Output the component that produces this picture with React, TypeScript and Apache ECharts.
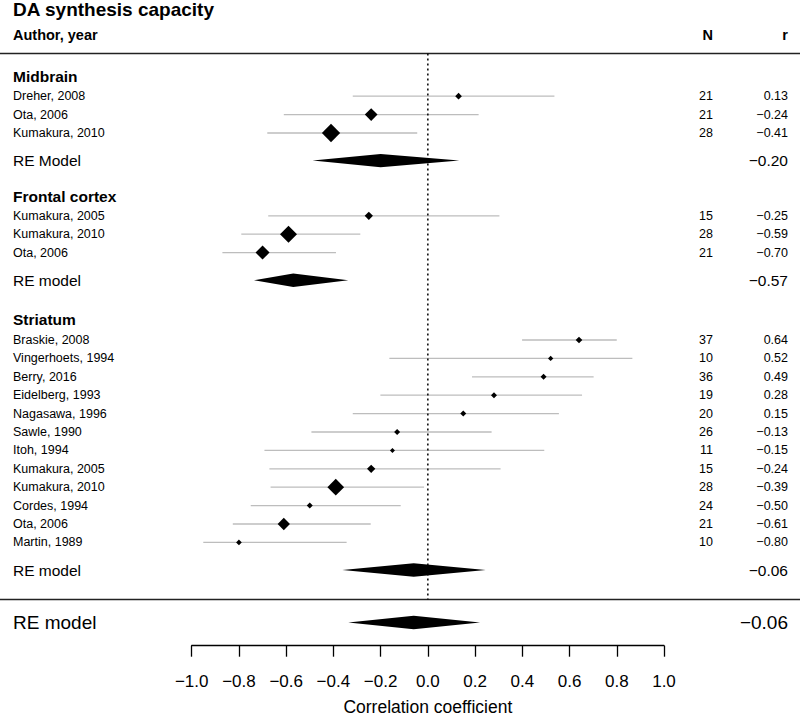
import React, { useEffect, useRef } from "react";
import * as echarts from "echarts";

// ---------- data ----------
const groupNames = ["Midbrain", "Frontal cortex", "Striatum"];
const groupRows = [-1.05, 5.45, 12.15];

const studyLabels = [
  "Dreher, 2008", "Ota, 2006", "Kumakura, 2010",
  "Kumakura, 2005", "Kumakura, 2010", "Ota, 2006",
  "Braskie, 2008", "Vingerhoets, 1994", "Berry, 2016", "Eidelberg, 1993",
  "Nagasawa, 1996", "Sawle, 1990", "Itoh, 1994", "Kumakura, 2005",
  "Kumakura, 2010", "Cordes, 1994", "Ota, 2006", "Martin, 1989",
];
const studyRows = [
  0, 1, 2,
  6.5, 7.5, 8.5,
  13.25, 14.25, 15.25, 16.25, 17.25, 18.25, 19.25, 20.25, 21.25, 22.25, 23.25, 24.25,
];
const studyN = [21, 21, 28, 15, 28, 21, 37, 10, 36, 19, 20, 26, 11, 15, 28, 24, 21, 10];
const studyR = [
  0.13, -0.24, -0.41,
  -0.25, -0.59, -0.70,
  0.64, 0.52, 0.49, 0.28, 0.15, -0.13, -0.15, -0.24, -0.39, -0.50, -0.61, -0.80,
];
const studyLower = [
  -0.318, -0.61, -0.68,
  -0.676, -0.79, -0.87,
  0.399, -0.163, 0.187, -0.201, -0.318, -0.493, -0.692, -0.671, -0.666, -0.75, -0.826, -0.951,
];
const studyUpper = [
  0.536, 0.215, -0.045,
  0.303, -0.286, -0.389,
  0.80, 0.866, 0.702, 0.653, 0.555, 0.27, 0.493, 0.308, -0.016, -0.115, -0.242, -0.344,
];
// relative study weights (drive the marker size)
const studyWeights = [
  6.7, 12.7, 18.3,
  8.3, 17, 14,
  6.7, 5.3, 6, 6, 6, 6, 5, 8.3, 16.7, 6, 12.3, 5.7,
];

const summaryLabels = ["RE Model", "RE model", "RE model", "RE model"];
const summaryRows = [3.5, 10, 25.75, 28.6];
const summaryR = [-0.20, -0.57, -0.06, -0.06];
const summaryLower = [-0.488, -0.736, -0.362, -0.337];
const summaryUpper = [0.133, -0.337, 0.245, 0.221];

const separatorRows = [-2.32, 27.35];
const xTickMin = -1.0;
const xTickMax = 1.0;
const xTickStep = 0.2;

const titleText = "DA synthesis capacity";
const colHeaders = ["Author, year", "N", "r"];
const xAxisTitle = "Correlation coefficient";

// ---------- layout / style ----------
const FONT = "'Liberation Sans', Arial, Helvetica, sans-serif";
const ROW_PX = 18.4;
const Y_MIN = -3;
const GRID_TOP = 41;
const GRID_BOTTOM_PX = 645.7;
const Y_MAX = Y_MIN + (GRID_BOTTOM_PX - GRID_TOP) / ROW_PX;
const LABEL_X = 13;
const N_X = 713;
const R_X = 788;

const fmt = (v: number, d = 2) => {
  if (Math.abs(v) < 1e-9) v = 0;
  return (v < 0 ? "\u2212" : "") + Math.abs(v).toFixed(d);
};

const txt = (x: number, y: number, text: string, size: number, align: string, bold = false) => ({
  type: "text",
  x,
  y,
  style: {
    text,
    fill: "#000",
    fontSize: size,
    fontFamily: FONT,
    fontWeight: bold ? "bold" : "normal",
    align,
    verticalAlign: "middle",
  },
});

export default function App() {
  const ref = useRef<HTMLDivElement>(null);

  useEffect(() => {
    if (!ref.current) return;
    const chart = echarts.init(ref.current, null, { renderer: "svg" });

    const option: any = {
      animation: false,
      backgroundColor: "#fff",
      grid: {
        left: 191.7,
        right: 136,
        top: GRID_TOP,
        bottom: 716 - GRID_BOTTOM_PX,
        containLabel: false,
        outerBoundsMode: "none",
      },
      xAxis: {
        type: "value",
        min: xTickMin,
        max: xTickMax,
        interval: xTickStep,
        position: "bottom",
        axisLine: { show: true, onZero: false, lineStyle: { color: "#000", width: 1.3 } },
        axisTick: { show: true, length: 11, lineStyle: { color: "#000", width: 1.3 } },
        axisLabel: {
          color: "#000",
          fontSize: 17,
          fontFamily: FONT,
          margin: 27,
          formatter: (v: number) => fmt(v, 1),
        },
        splitLine: { show: false },
        name: xAxisTitle,
        nameLocation: "middle",
        nameGap: 52,
        nameTextStyle: { color: "#000", fontSize: 17.5, fontFamily: FONT },
      },
      yAxis: { type: "value", min: Y_MIN, max: Y_MAX, inverse: true, show: false },
      graphic: [
        txt(LABEL_X, 9.5, titleText, 19, "left", true),
        txt(LABEL_X, 35, colHeaders[0], 14.5, "left", true),
        txt(N_X, 35, colHeaders[1], 14.5, "right", true),
        txt(R_X, 35, colHeaders[2], 14.5, "right", true),
      ],
      series: [
        {
          type: "line",
          data: [[0, separatorRows[0]], [0, separatorRows[1]]],
          symbol: "none",
          silent: true,
          lineStyle: { color: "#000", width: 1.5, type: [2, 3] },
        },
        {
          type: "custom",
          clip: false,
          silent: true,
          data: separatorRows.map((r) => [0, r]),
          renderItem: (params: any, api: any) => {
            const y = api.coord([0, api.value(1)])[1];
            return {
              type: "line",
              shape: { x1: 0, y1: y, x2: 800, y2: y },
              style: { stroke: "#222", lineWidth: 1.4 },
            };
          },
        },
        {
          type: "custom",
          clip: false,
          silent: true,
          data: groupRows.map((r) => [0, r]),
          renderItem: (params: any, api: any) => {
            const y = api.coord([0, api.value(1)])[1];
            return txt(LABEL_X, y, groupNames[params.dataIndex], 15.5, "left", true);
          },
        },
        {
          type: "custom",
          clip: false,
          silent: true,
          encode: { x: [0, 2, 3], y: 1 },
          data: studyR.map((r, i) => [r, studyRows[i], studyLower[i], studyUpper[i], studyWeights[i]]),
          renderItem: (params: any, api: any) => {
            const i = params.dataIndex;
            const [xc, y] = api.coord([api.value(0), api.value(1)]);
            const xl = api.coord([api.value(2), api.value(1)])[0];
            const xu = api.coord([api.value(3), api.value(1)])[0];
            const h = api.value(4) / 2;
            return {
              type: "group",
              children: [
                {
                  type: "line",
                  shape: { x1: xl, y1: y, x2: xu, y2: y },
                  style: { stroke: "#bdbdbd", lineWidth: 1.3 },
                },
                {
                  type: "polygon",
                  shape: { points: [[xc - h, y], [xc, y - h], [xc + h, y], [xc, y + h]] },
                  style: { fill: "#000" },
                },
                txt(LABEL_X, y, studyLabels[i], 12.5, "left"),
                txt(N_X, y, String(studyN[i]), 12.5, "right"),
                txt(R_X, y, fmt(studyR[i]), 12.5, "right"),
              ],
            };
          },
        },
        {
          type: "custom",
          clip: false,
          silent: true,
          encode: { x: [0, 2, 3], y: 1 },
          data: summaryR.map((r, i) => [r, summaryRows[i], summaryLower[i], summaryUpper[i]]),
          renderItem: (params: any, api: any) => {
            const i = params.dataIndex;
            const overall = i === summaryR.length - 1;
            const [xc, y] = api.coord([api.value(0), api.value(1)]);
            const xl = api.coord([api.value(2), api.value(1)])[0];
            const xu = api.coord([api.value(3), api.value(1)])[0];
            const h = 6.7;
            const fs = overall ? 19 : 15.5;
            return {
              type: "group",
              children: [
                {
                  type: "polygon",
                  shape: { points: [[xl, y], [xc, y - h], [xu, y], [xc, y + h]] },
                  style: { fill: "#000" },
                },
                txt(LABEL_X, y, summaryLabels[i], fs, "left"),
                txt(R_X, y, fmt(summaryR[i]), fs, "right"),
              ],
            };
          },
        },
      ],
    };

    chart.setOption(option);
    return () => chart.dispose();
  }, []);

  return (
    <div
      ref={ref}
      style={{ position: "fixed", left: 0, top: 0, width: 800, height: 716, background: "#fff" }}
    />
  );
}
